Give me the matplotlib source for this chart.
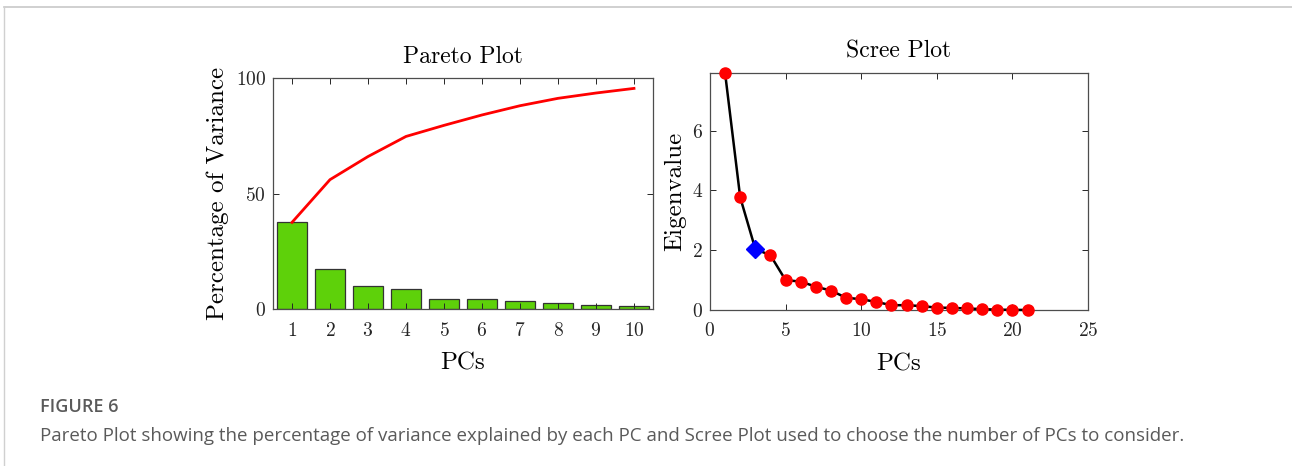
import numpy as np
import matplotlib.pyplot as plt
from matplotlib.lines import Line2D

# values
pcs = np.arange(1, 11)
pct_var = [37.5, 17.5, 9.8, 8.5, 4.5, 4.2, 3.3, 2.6, 1.7, 1.4]
cum_var = [37.5, 56.0, 66.0, 74.7, 79.5, 84.0, 88.0, 91.2, 93.5, 95.5]

scree_pc = np.arange(1, 22)
eigen = [7.93, 3.77, 2.04, 1.83, 1.00, 0.95, 0.78, 0.65, 0.41, 0.36, 0.27,
         0.16, 0.16, 0.13, 0.08, 0.07, 0.05, 0.03, 0.01, 0.005, 0.0]
elbow = 3  # marked with the blue diamond

plt.rcParams['font.family'] = 'cmr10'
plt.rcParams['mathtext.fontset'] = 'cm'
plt.rcParams['axes.formatter.use_mathtext'] = True

fig = plt.figure(figsize=(12.92, 4.66), dpi=100)

tick_col = '#262626'

def style(ax):
    for s in ax.spines.values():
        s.set_color('#4d4d4d')
        s.set_linewidth(0.9)
    ax.tick_params(direction='in', length=4, width=0.7, colors=tick_col,
                   labelsize=14, top=True, right=True)
    ax.tick_params(axis='x', pad=9)
    ax.tick_params(axis='y', pad=5)

# Pareto plot
ax1 = fig.add_axes([0.2113, 0.3369, 0.2941, 0.4957])
ax1.bar(pcs, pct_var, width=0.8, color='#5ed10a', edgecolor='#333333', linewidth=0.9)
ax1.plot(pcs, cum_var, color='#ff0000', lw=2)
ax1.set_xlim(0.5, 10.5)
ax1.set_ylim(0, 100)
ax1.set_xticks(pcs)
ax1.set_yticks([0, 50, 100])
style(ax1)
ax1.set_title('Pareto Plot', fontsize=17, pad=11)
ax1.set_xlabel('PCs', fontsize=18, labelpad=9)
ax1.set_ylabel('Percentage of Variance', fontsize=18, labelpad=5)

# Scree plot
ax2 = fig.add_axes([0.5495, 0.3348, 0.2926, 0.5086])
ax2.plot(scree_pc, eigen, color='black', lw=1.8, marker='o', ms=8,
         mfc='#ff0000', mec='#ff0000', zorder=3, clip_on=False)
ax2.plot(elbow, eigen[elbow - 1], marker='D', ms=9.5, color='#0000ff',
         zorder=4, clip_on=False)
ax2.set_xlim(0, 25)
ax2.set_ylim(0, eigen[0])
ax2.set_xticks([0, 5, 10, 15, 20, 25])
ax2.set_yticks([0, 2, 4, 6])
style(ax2)
ax2.set_title('Scree Plot', fontsize=17, pad=11)
ax2.set_xlabel('PCs', fontsize=18, labelpad=9)
ax2.set_ylabel('Eigenvalue', fontsize=18, labelpad=4)

# page frame and caption
fig.add_artist(Line2D([4/1292, 1], [1 - 7/466, 1 - 7/466], color='#c8c8c8', lw=1.2))
fig.add_artist(Line2D([4/1292, 4/1292], [0, 1 - 7/466], color='#d0d0d0', lw=1))
fig.text(40/1292, 1 - 407/466, 'FIGURE 6', family='Open Sans', fontsize=13,
         weight='semibold', color='#5a5a5a', va='center')
fig.text(40/1292, 1 - 436/466,
         'Pareto Plot showing the percentage of variance explained by each PC and '
         'Scree Plot used to choose the number of PCs to consider.',
         family='Open Sans', fontsize=13.5, color='#5a5a5a', va='center')

fig.savefig('out.png', dpi=100, facecolor='white')
